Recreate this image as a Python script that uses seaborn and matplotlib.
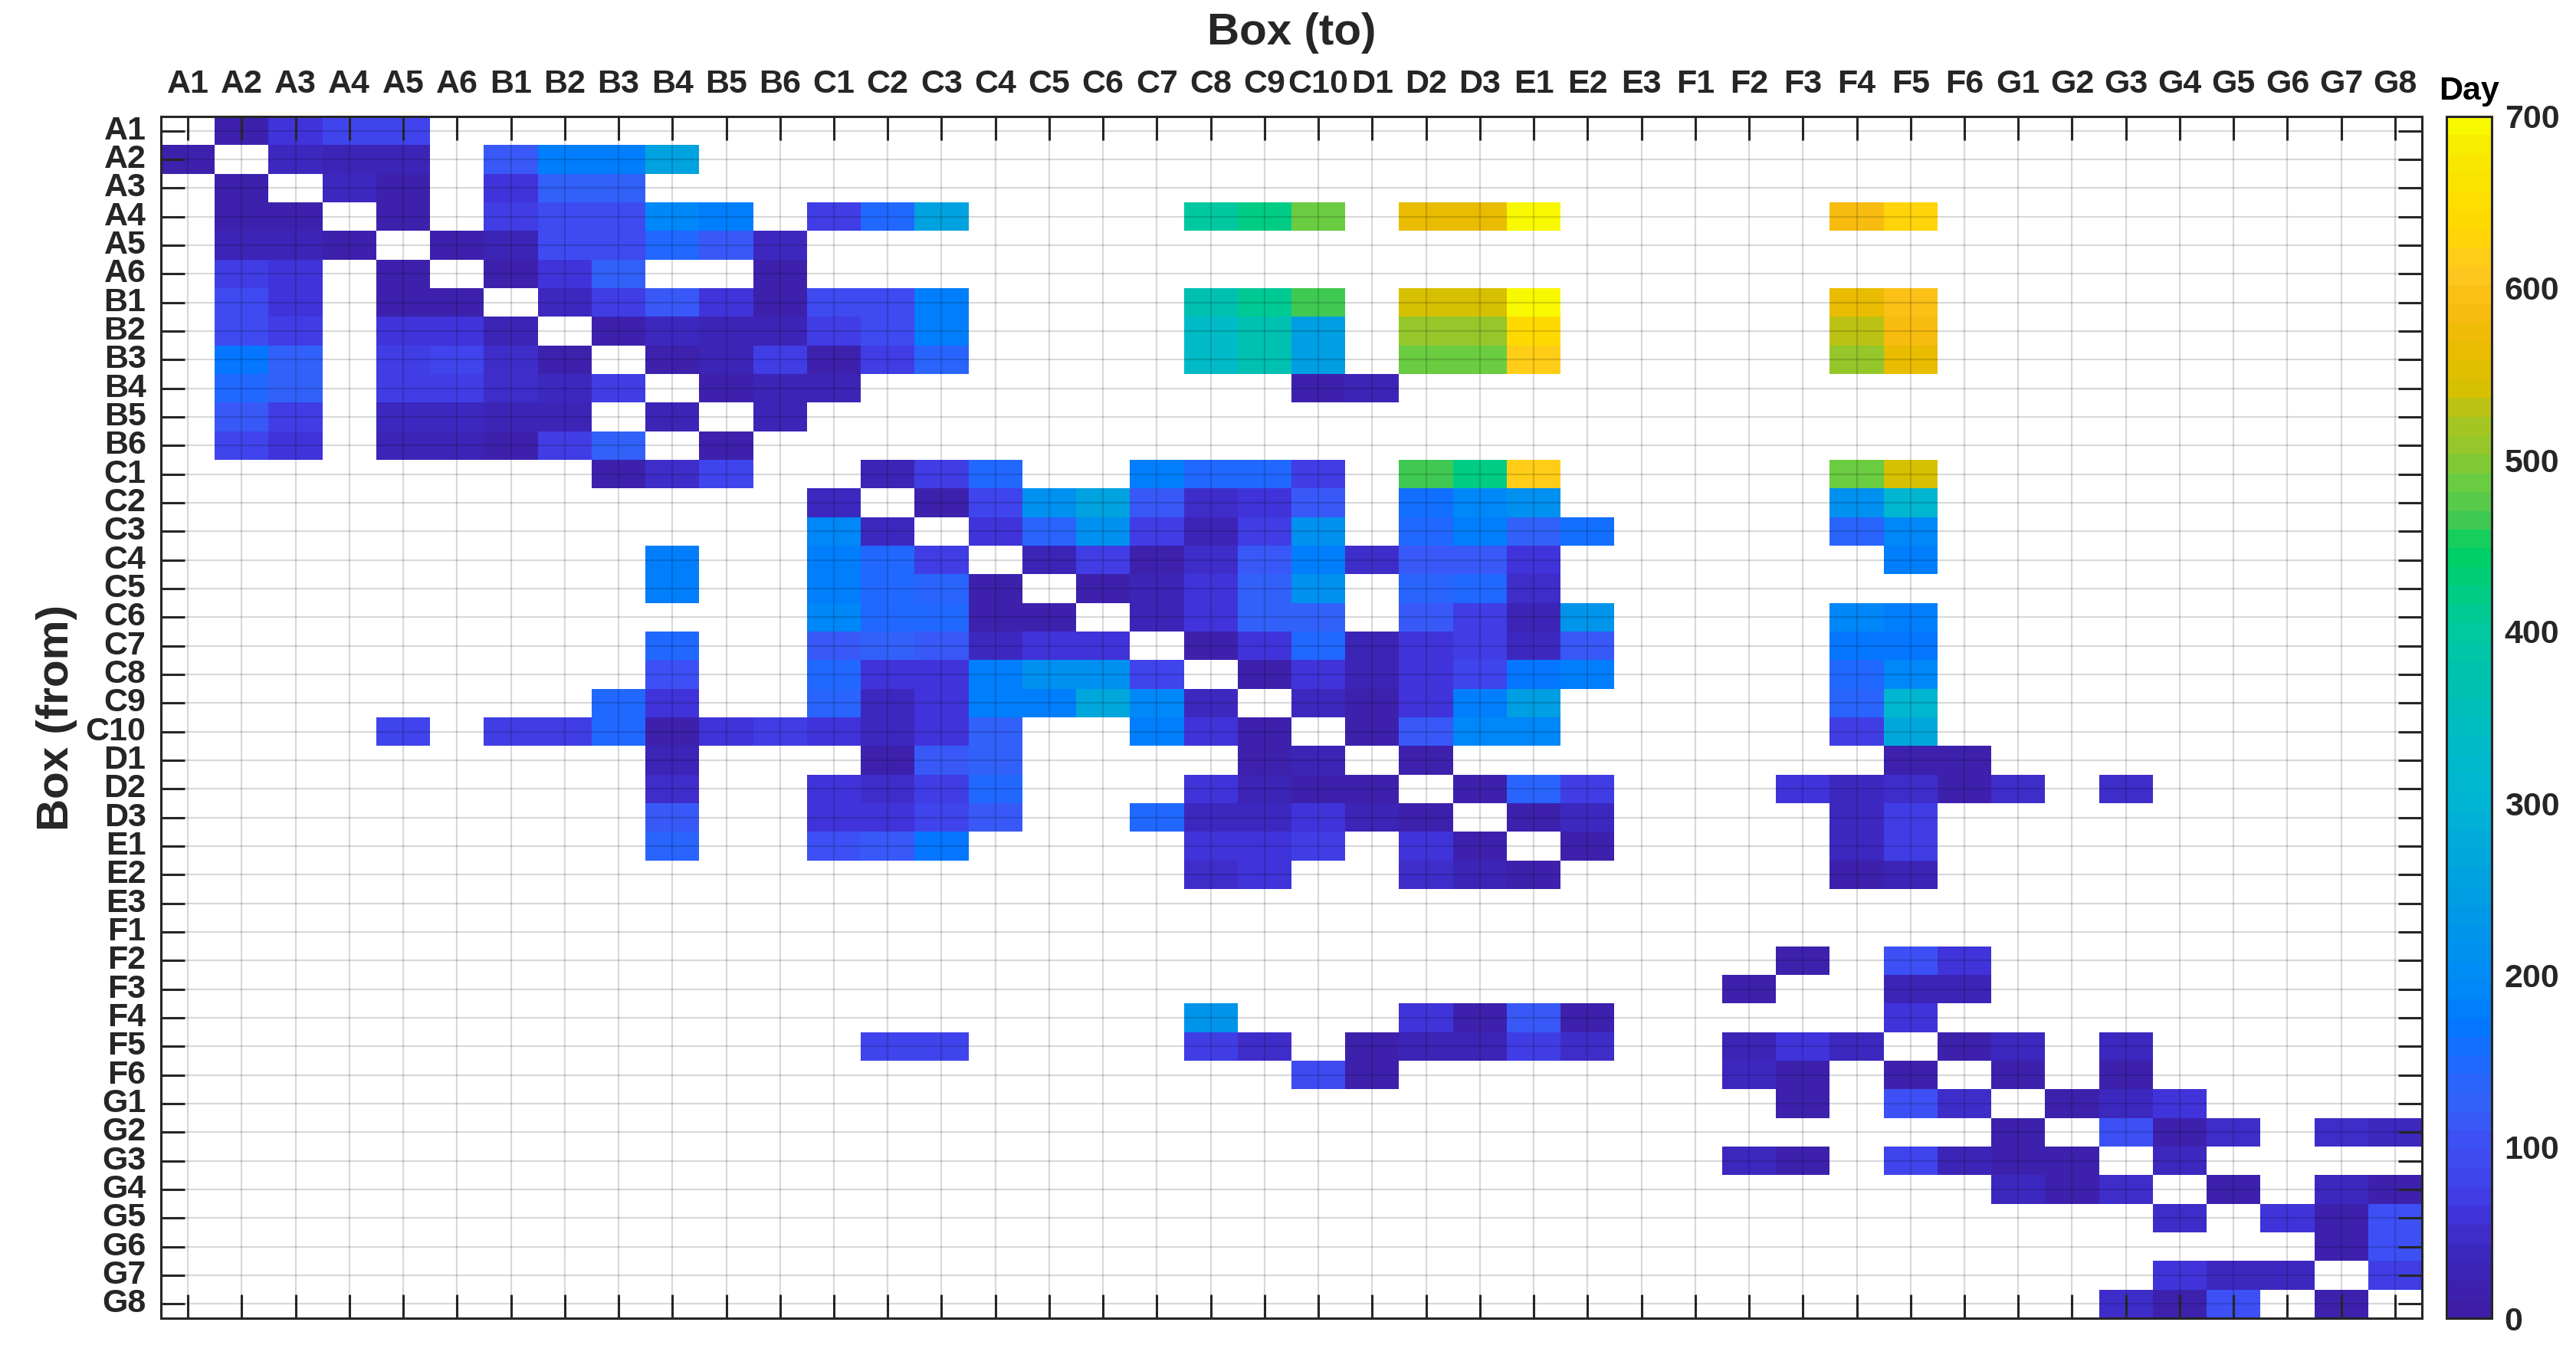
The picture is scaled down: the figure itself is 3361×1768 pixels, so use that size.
"""
Box-to-box transfer heatmap: day on which a move from one box (row) to
another box (column) was seen. Empty cells = no move.
"""

import numpy as np
import pandas as pd
import matplotlib
matplotlib.use("Agg")
import matplotlib.pyplot as plt
import seaborn as sns
from matplotlib.colors import LinearSegmentedColormap

boxes = (["A1", "A2", "A3", "A4", "A5", "A6"]
         + ["B1", "B2", "B3", "B4", "B5", "B6"]
         + ["C1", "C2", "C3", "C4", "C5", "C6", "C7", "C8", "C9", "C10"]
         + ["D1", "D2", "D3", "E1", "E2", "E3"]
         + ["F1", "F2", "F3", "F4", "F5", "F6"]
         + ["G1", "G2", "G3", "G4", "G5", "G6", "G7", "G8"])

# (to box, day) for every source box
from_A1 = [("A2", 15), ("A3", 60), ("A4", 85), ("A5", 85)]
from_A2 = [("A1", 15), ("A3", 35), ("A4", 25), ("A5", 30), ("B1", 120),
           ("B2", 175), ("B3", 185), ("B4", 260)]
from_A3 = [("A2", 15), ("A4", 40), ("A5", 15), ("B1", 60), ("B2", 125), ("B3", 125)]
from_A4 = [("A2", 15), ("A3", 20), ("A5", 15), ("B1", 70), ("B2", 95), ("B3", 95),
           ("B4", 195), ("B5", 175), ("C1", 70), ("C2", 150), ("C3", 260),
           ("C8", 395), ("C9", 420), ("C10", 490), ("D2", 560), ("D3", 560),
           ("E1", 690), ("F4", 580), ("F5", 625)]
from_A5 = [("A2", 25), ("A3", 25), ("A4", 20), ("A6", 15), ("B1", 25), ("B2", 95),
           ("B3", 95), ("B4", 150), ("B5", 115), ("B6", 35)]
from_A6 = [("A2", 75), ("A3", 60), ("A5", 15), ("B1", 12), ("B2", 65), ("B3", 125),
           ("B6", 12)]
from_B1 = [("A2", 95), ("A3", 60), ("A5", 20), ("A6", 20), ("B2", 35), ("B3", 70),
           ("B4", 110), ("B5", 60), ("B6", 12), ("C1", 95), ("C2", 95), ("C3", 180),
           ("C8", 370), ("C9", 415), ("C10", 470), ("D2", 545), ("D3", 545),
           ("E1", 690), ("F4", 560), ("F5", 600)]
from_B2 = [("A2", 95), ("A3", 70), ("A5", 60), ("A6", 55), ("B1", 25), ("B3", 20),
           ("B4", 40), ("B5", 30), ("B6", 30), ("C1", 70), ("C2", 95), ("C3", 180),
           ("C8", 335), ("C9", 365), ("C10", 245), ("D2", 505), ("D3", 505),
           ("E1", 640), ("F4", 525), ("F5", 585)]
from_B3 = [("A2", 165), ("A3", 125), ("A5", 75), ("A6", 85), ("B1", 45), ("B2", 15),
           ("B4", 15), ("B5", 25), ("B6", 70), ("C1", 15), ("C2", 75), ("C3", 135),
           ("C8", 335), ("C9", 365), ("C10", 245), ("D2", 490), ("D3", 490),
           ("E1", 615), ("F4", 505), ("F5", 565)]
from_B4 = [("A2", 150), ("A3", 125), ("A5", 70), ("A6", 70), ("B1", 45), ("B2", 35),
           ("B3", 70), ("B5", 12), ("B6", 30), ("C1", 25), ("C10", 20), ("D1", 30)]
from_B5 = [("A2", 110), ("A3", 70), ("A5", 40), ("A6", 40), ("B1", 22), ("B2", 22),
           ("B4", 22), ("B6", 30)]
from_B6 = [("A2", 85), ("A3", 60), ("A5", 22), ("A6", 22), ("B1", 18), ("B2", 75),
           ("B3", 125), ("B5", 15)]
from_C1 = [("B3", 15), ("B4", 45), ("B5", 85), ("C2", 30), ("C3", 70), ("C4", 145),
           ("C7", 175), ("C8", 145), ("C9", 145), ("C10", 70), ("D2", 470),
           ("D3", 420), ("E1", 615), ("F4", 490), ("F5", 545)]
from_C2 = [("C1", 35), ("C3", 20), ("C4", 85), ("C5", 210), ("C6", 260), ("C7", 115),
           ("C8", 45), ("C9", 55), ("C10", 110), ("D2", 160), ("D3", 195),
           ("E1", 210), ("F4", 210), ("F5", 315)]
from_C3 = [("C1", 195), ("C2", 35), ("C4", 60), ("C5", 135), ("C6", 215), ("C7", 75),
           ("C8", 30), ("C9", 75), ("C10", 210), ("D2", 145), ("D3", 180),
           ("E1", 130), ("E2", 160), ("F4", 140), ("F5", 195)]
from_C4 = [("B4", 175), ("C1", 175), ("C2", 145), ("C3", 70), ("C5", 30), ("C6", 70),
           ("C7", 20), ("C8", 45), ("C9", 115), ("C10", 185), ("D1", 45),
           ("D2", 115), ("D3", 115), ("E1", 55), ("F5", 180)]
from_C5 = [("B4", 175), ("C1", 180), ("C2", 150), ("C3", 140), ("C4", 15), ("C6", 20),
           ("C7", 30), ("C8", 65), ("C9", 130), ("C10", 215), ("D2", 140),
           ("D3", 150), ("E1", 50)]
from_C6 = [("C1", 195), ("C2", 150), ("C3", 150), ("C4", 12), ("C5", 12), ("C7", 25),
           ("C8", 55), ("C9", 130), ("C10", 130), ("D2", 115), ("D3", 70),
           ("E1", 30), ("E2", 225), ("F4", 190), ("F5", 185)]
from_C7 = [("B4", 150), ("C1", 115), ("C2", 125), ("C3", 115), ("C4", 40), ("C5", 60),
           ("C6", 65), ("C8", 20), ("C9", 60), ("C10", 145), ("D1", 30), ("D2", 65),
           ("D3", 70), ("E1", 35), ("E2", 115), ("F4", 170), ("F5", 165)]
from_C8 = [("B4", 100), ("C1", 150), ("C2", 60), ("C3", 55), ("C4", 180), ("C5", 210),
           ("C6", 210), ("C7", 85), ("C9", 20), ("C10", 65), ("D1", 25), ("D2", 65),
           ("D3", 80), ("E1", 170), ("E2", 180), ("F4", 145), ("F5", 190)]
from_C9 = [("B3", 145), ("B4", 60), ("C1", 135), ("C2", 35), ("C3", 55), ("C4", 180),
           ("C5", 175), ("C6", 265), ("C7", 195), ("C8", 35), ("C10", 35),
           ("D1", 15), ("D2", 60), ("D3", 175), ("E1", 245), ("F4", 135), ("F5", 310)]
from_C10 = [("A5", 85), ("B1", 75), ("B2", 75), ("B3", 145), ("B4", 15), ("B5", 60),
            ("B6", 70), ("C1", 60), ("C2", 40), ("C3", 55), ("C4", 130), ("C7", 175),
            ("C8", 65), ("C9", 15), ("D1", 20), ("D2", 115), ("D3", 190),
            ("E1", 190), ("F4", 70), ("F5", 265)]
from_D1 = [("B4", 30), ("C2", 15), ("C3", 115), ("C4", 130), ("C9", 12), ("C10", 25),
           ("D2", 20), ("F5", 20), ("F6", 20)]
from_D2 = [("B4", 45), ("C1", 55), ("C2", 50), ("C3", 75), ("C4", 145), ("C8", 65),
           ("C9", 25), ("C10", 15), ("D1", 15), ("D3", 18), ("E1", 140), ("E2", 70),
           ("F3", 60), ("F4", 35), ("F5", 50), ("F6", 15), ("G1", 50), ("G3", 50)]
from_D3 = [("B4", 120), ("C1", 55), ("C2", 60), ("C3", 85), ("C4", 110), ("C7", 145),
           ("C8", 40), ("C9", 35), ("C10", 55), ("D1", 30), ("D2", 20), ("E1", 18),
           ("E2", 40), ("F4", 35), ("F5", 70)]
from_E1 = [("B4", 135), ("C1", 100), ("C2", 110), ("C3", 170), ("C8", 55), ("C9", 55),
           ("C10", 70), ("D2", 55), ("D3", 18), ("E2", 20), ("F4", 35), ("F5", 70)]
from_E2 = [("C8", 50), ("C9", 55), ("D2", 50), ("D3", 25), ("E1", 20), ("F4", 20),
           ("F5", 25)]
from_E3 = []
from_F1 = []
from_F2 = [("F3", 20), ("F5", 100), ("F6", 55)]
from_F3 = [("F2", 20), ("F5", 25), ("F6", 25)]
from_F4 = [("C8", 225), ("D2", 60), ("D3", 20), ("E1", 110), ("E2", 20), ("F5", 55)]
from_F5 = [("C2", 85), ("C3", 85), ("C8", 75), ("C9", 45), ("D1", 15), ("D2", 25),
           ("D3", 25), ("E1", 70), ("E2", 50), ("F2", 22), ("F3", 55), ("F4", 35),
           ("F6", 15), ("G1", 40), ("G3", 40)]
from_F6 = [("C10", 95), ("D1", 15), ("F2", 40), ("F3", 20), ("F5", 15), ("G1", 15),
           ("G3", 15)]
from_G1 = [("F3", 20), ("F5", 100), ("F6", 45), ("G2", 15), ("G3", 40), ("G4", 55)]
from_G2 = [("G1", 15), ("G3", 100), ("G4", 15), ("G5", 50), ("G7", 45), ("G8", 40)]
from_G3 = [("F2", 40), ("F3", 20), ("F5", 85), ("F6", 25), ("G1", 15), ("G2", 15),
           ("G4", 35)]
from_G4 = [("G1", 35), ("G2", 15), ("G3", 50), ("G5", 20), ("G7", 40), ("G8", 20)]
from_G5 = [("G4", 45), ("G6", 55), ("G7", 18), ("G8", 100)]
from_G6 = [("G7", 15), ("G8", 100)]
from_G7 = [("G4", 65), ("G5", 35), ("G6", 35), ("G8", 70)]
from_G8 = [("G3", 45), ("G4", 15), ("G5", 100), ("G7", 15)]

flows = [from_A1, from_A2, from_A3, from_A4, from_A5, from_A6,
         from_B1, from_B2, from_B3, from_B4, from_B5, from_B6,
         from_C1, from_C2, from_C3, from_C4, from_C5, from_C6, from_C7, from_C8,
         from_C9, from_C10, from_D1, from_D2, from_D3, from_E1, from_E2, from_E3,
         from_F1, from_F2, from_F3, from_F4, from_F5, from_F6,
         from_G1, from_G2, from_G3, from_G4, from_G5, from_G6, from_G7, from_G8]

days = pd.DataFrame(np.nan, index=boxes, columns=boxes)
for src, moves in zip(boxes, flows):
    for dst, d in moves:
        days.loc[src, dst] = d

# parula-like map, stepped in 64 levels like the MATLAB one
cmap_days = [0, 15, 35, 50, 60, 70, 85, 100, 120, 145, 170, 190, 210, 250, 300, 340,
             370, 400, 420, 450, 470, 490, 505, 525, 545, 565, 590, 615, 640, 690, 700]
cmap_cols = ["#3e1ea6", "#3c22b0", "#3c28c0", "#4030d0", "#4036e0", "#4040e8",
             "#4048f0", "#3c50f5", "#3460f8", "#2068ff", "#0078ff", "#0088f8",
             "#0090f0", "#00a0e0", "#00b4d4", "#00bcc4", "#00c0b0", "#00c8a0",
             "#00cc88", "#00d060", "#4cc850", "#6ccc40", "#8cc830", "#a8c420",
             "#d8c000", "#e8bc00", "#f8bc10", "#ffc820", "#ffd800", "#f8ec00",
             "#f8f800"]
cmap = LinearSegmentedColormap.from_list(
    "parula_like", [(v / 700, c) for v, c in zip(cmap_days, cmap_cols)], N=64)

sns.set_style("white")
plt.rcParams["font.family"] = ["Liberation Sans", "DejaVu Sans"]
plt.rcParams["font.weight"] = "bold"
ink = "#262626"

W, H = 3361, 1768
fig = plt.figure(figsize=(W / 200, H / 200), dpi=200)
ax = fig.add_axes([210 / W, (H - 1720) / H, 2950 / W, 1568 / H])
cax = fig.add_axes([3192 / W, (H - 1720) / H, 59 / W, 1568 / H])

sns.heatmap(days, ax=ax, cbar_ax=cax, cmap=cmap, vmin=0, vmax=700,
            xticklabels=boxes, yticklabels=boxes,
            cbar_kws={"ticks": list(range(0, 701, 100))})

# MATLAB look: labels on top, ticks inward on all sides, grid over cells
ax.xaxis.tick_top()
ax.tick_params(axis="x", top=True, bottom=True, labeltop=True, labelbottom=False,
               direction="in", length=11, width=1.1, color=ink, pad=8,
               labelsize=15.5, labelcolor=ink)
ax.tick_params(axis="y", left=True, right=True, labelleft=True, labelright=False,
               direction="in", length=11, width=1.1, color=ink, pad=7,
               labelsize=15.5, labelcolor=ink)
plt.setp(ax.get_xticklabels(), rotation=0, fontweight="bold")
plt.setp(ax.get_yticklabels(), rotation=0, fontweight="bold")
ax.grid(True, color="black", alpha=0.15, linewidth=0.8)
ax.set_axisbelow(False)
for s in ax.spines.values():
    s.set_visible(True)
    s.set_linewidth(1.1)
    s.set_color(ink)

ax.set_xlabel("")
ax.set_ylabel("Box (from)", fontsize=21, fontweight="bold", color=ink, labelpad=4)
fig.text((210 + 1475) / W, 1 - 58 / H, "Box (to)", ha="center", va="baseline",
         fontsize=21, fontweight="bold", color=ink)

cb = ax.collections[0].colorbar
cb.outline.set_visible(True)
cb.outline.set_linewidth(1.1)
cb.outline.set_edgecolor(ink)
cax.tick_params(direction="in", length=6, width=1.1, color=ink, labelsize=15.5,
                labelcolor=ink, pad=6)
plt.setp(cax.get_yticklabels(), fontweight="bold")
cax.set_title("Day", fontsize=15.5, fontweight="bold", color="black", pad=8)

fig.savefig("out.png", dpi=200)
